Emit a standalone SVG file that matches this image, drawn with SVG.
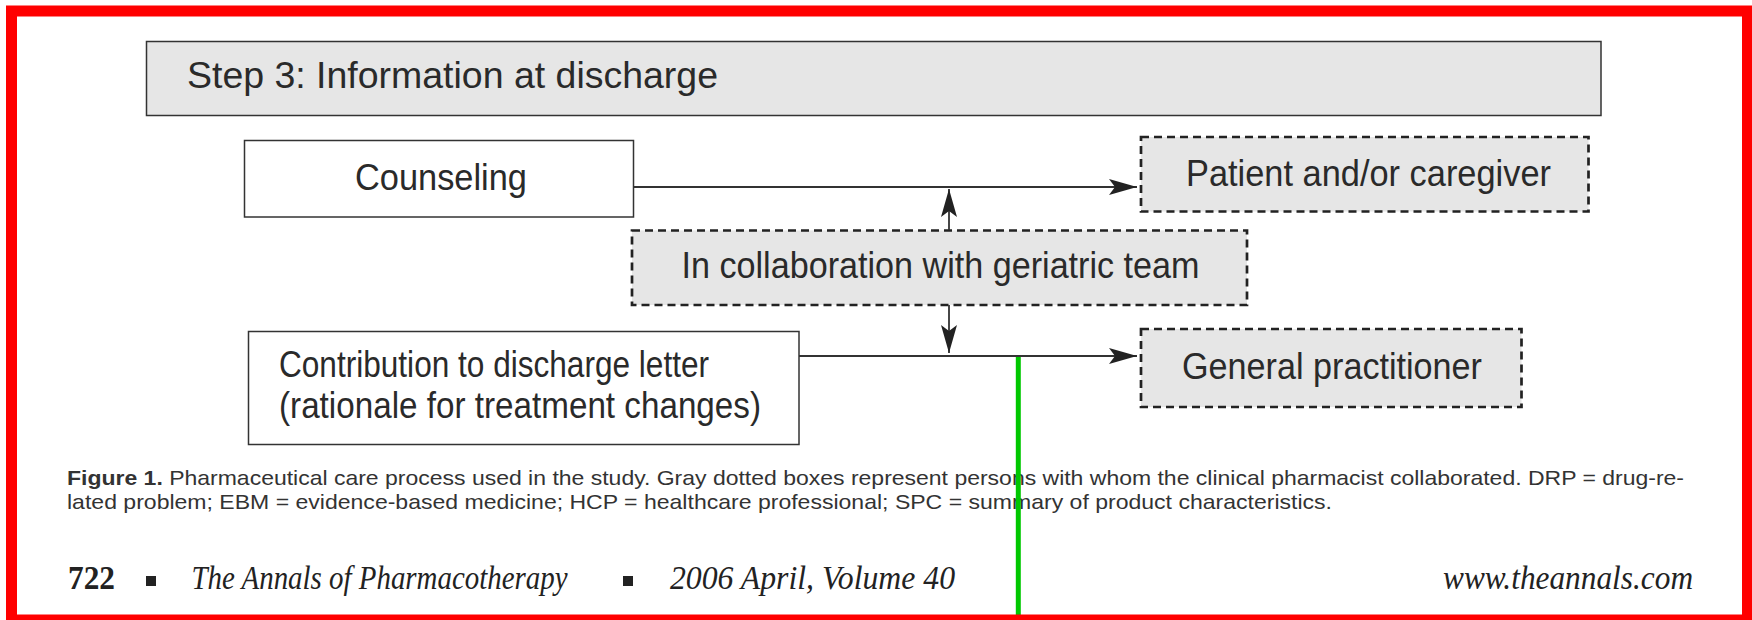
<svg xmlns="http://www.w3.org/2000/svg" width="1752" height="620" viewBox="0 0 1752 620">
<style>
.box{fill:#ffffff;stroke:#333333;stroke-width:1.5}
.hdr{fill:#e6e6e6;stroke:#333333;stroke-width:1.5}
.dash{fill:#e6e6e6;stroke:#222222;stroke-width:2.7;stroke-dasharray:8 5}
.t{font-family:"Liberation Sans",Arial,Helvetica,sans-serif;fill:#2a2a2a;font-size:37px}
.cap{font-family:"Liberation Sans",Arial,Helvetica,sans-serif;fill:#333333;font-size:21px}
.ft{font-family:"Liberation Serif","Times New Roman",serif;fill:#222222;font-size:33px}
.conn{fill:none;stroke:#333333;stroke-width:1.8}
</style>
<defs>
<marker id="arr" viewBox="0 0 28 16" refX="28" refY="8" markerWidth="28" markerHeight="16" markerUnits="userSpaceOnUse" orient="auto">
<path d="M0,0 L28,8 L0,16 L6,8 Z" fill="#222222"/>
</marker>
</defs>
<rect width="1752" height="620" fill="#ffffff"/>
<g id="header">
<rect class="hdr" x="146.5" y="41.5" width="1454.5" height="74"/>
<text class="t" x="187" y="88" font-size="40" textLength="531" lengthAdjust="spacingAndGlyphs">Step 3: Information at discharge</text>
</g>
<g id="counseling">
<rect class="box" x="244.5" y="140.5" width="389" height="76.5"/>
<text class="t" x="355" y="190" textLength="172" lengthAdjust="spacingAndGlyphs">Counseling</text>
</g>
<g id="patient">
<rect class="dash" x="1141" y="137" width="447.5" height="74.5"/>
<text class="t" x="1186" y="186" textLength="365" lengthAdjust="spacingAndGlyphs">Patient and/or caregiver</text>
</g>
<g id="collaboration">
<rect class="dash" x="632" y="230.5" width="615" height="74.5"/>
<text class="t" x="681.5" y="278" textLength="518" lengthAdjust="spacingAndGlyphs">In collaboration with geriatric team</text>
</g>
<g id="contribution">
<rect class="box" x="248.5" y="331.5" width="550.5" height="113"/>
<text class="t" x="279" y="377" textLength="430" lengthAdjust="spacingAndGlyphs">Contribution to discharge letter</text>
<text class="t" x="279" y="418" textLength="482" lengthAdjust="spacingAndGlyphs">(rationale for treatment changes)</text>
</g>
<g id="gp">
<rect class="dash" x="1141" y="329" width="380.5" height="78"/>
<text class="t" x="1182" y="379" textLength="300" lengthAdjust="spacingAndGlyphs">General practitioner</text>
</g>
<g id="connectors">
<line class="conn" x1="633.5" y1="187" x2="1137" y2="187" marker-end="url(#arr)"/>
<line class="conn" x1="799" y1="356" x2="1137" y2="356" marker-end="url(#arr)"/>
<line class="conn" x1="949" y1="230" x2="949" y2="189" marker-end="url(#arr)"/>
<line class="conn" x1="949" y1="305" x2="949" y2="353" marker-end="url(#arr)"/>
</g>
<g id="caption">
<text class="cap" x="67" y="485" textLength="1617" lengthAdjust="spacingAndGlyphs"><tspan font-weight="bold">Figure 1.</tspan> Pharmaceutical care process used in the study. Gray dotted boxes represent persons with whom the clinical pharmacist collaborated. DRP = drug-re-</text>
<text class="cap" x="67" y="509" textLength="1265" lengthAdjust="spacingAndGlyphs">lated problem; EBM = evidence-based medicine; HCP = healthcare professional; SPC = summary of product characteristics.</text>
</g>
<g id="footer">
<text class="ft" x="68" y="589" font-weight="bold" textLength="47" lengthAdjust="spacingAndGlyphs">722</text>
<rect x="146" y="576" width="10" height="10" fill="#222222"/>
<text class="ft" x="191.5" y="589" font-style="italic" textLength="376" lengthAdjust="spacingAndGlyphs">The Annals of Pharmacotherapy</text>
<rect x="623" y="576" width="10" height="10" fill="#222222"/>
<text class="ft" x="670" y="589" font-style="italic" textLength="285" lengthAdjust="spacingAndGlyphs">2006 April, Volume 40</text>
<text class="ft" x="1443" y="589" font-style="italic" textLength="250" lengthAdjust="spacingAndGlyphs">www.theannals.com</text>
</g>
<line x1="1018.3" y1="357" x2="1018.3" y2="620" stroke="#00c800" stroke-width="5"/>
<rect x="11.5" y="11" width="1736" height="609" fill="none" stroke="#ff0000" stroke-width="11"/>
</svg>
